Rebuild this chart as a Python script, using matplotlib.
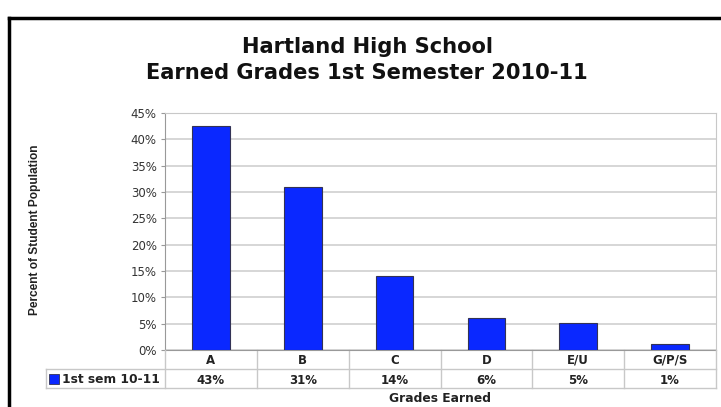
import matplotlib
matplotlib.use("Agg")
import matplotlib.pyplot as plt
from matplotlib.patches import Rectangle
from matplotlib.lines import Line2D

# data
grades = ["A", "B", "C", "D", "E/U", "G/P/S"]
percent = [42.5, 30.9, 14.0, 6.1, 5.1, 1.1]
table_labels = ["43%", "31%", "14%", "6%", "5%", "1%"]
series_name = "1st sem 10-11"
yticks = [0, 5, 10, 15, 20, 25, 30, 35, 40, 45]

W, H = 721, 407
# the source picture is stretched sideways, DejaVu is wider than Arial so it fits better
plt.rcParams["font.family"] = ["DejaVu Sans"]

fig = plt.figure(figsize=(W / 100, H / 100), dpi=100)


def fx(px):
    return px / W


def fy(py):
    return 1 - py / H


# outer black frame (runs off the right and bottom edge)
fig.add_artist(Line2D([fx(9), fx(9)], [fy(18), fy(420)], color="black", lw=2.5))
fig.add_artist(Line2D([fx(9), fx(730)], [fy(18), fy(18)], color="black", lw=2.5))

# plot area
left, right, top, bottom = 165, 716, 113, 350
ax = fig.add_axes([fx(left), fy(bottom), fx(right - left), fy(top) - fy(bottom)])

x = range(len(grades))
ax.bar(x, percent, width=0.41, color="#0a28ff", edgecolor="#333355", linewidth=0.8, zorder=3)
ax.set_xlim(-0.5, len(grades) - 0.5)
ax.set_ylim(0, 45)
ax.set_yticks(yticks)
ax.set_yticklabels([f"{t}%" for t in yticks], fontsize=8.5, color="#333333")
ax.tick_params(axis="y", length=3, color="#999999", pad=3)
ax.set_xticks([])
ax.grid(axis="y", color="#d0d0d0", lw=1.2, zorder=0)
for s in ["top", "right", "bottom"]:
    ax.spines[s].set_color("#c8c8c8")
ax.spines["left"].set_color("#999999")
ax.spines["bottom"].set_color("#999999")

# data table below the axes
row1_bot = 369
row2_bot = 388
legend_left = 46
gc = "#c8c8c8"
tr = ax.get_xaxis_transform()
fig.add_artist(Line2D([fx(legend_left), fx(right)], [fy(row1_bot), fy(row1_bot)], color=gc, lw=1))
fig.add_artist(Line2D([fx(legend_left), fx(right)], [fy(row2_bot), fy(row2_bot)], color=gc, lw=1))
fig.add_artist(Line2D([fx(legend_left), fx(legend_left)], [fy(row1_bot), fy(row2_bot)], color=gc, lw=1))
fig.add_artist(Line2D([fx(right), fx(right)], [fy(bottom), fy(row2_bot)], color=gc, lw=1))
fig.add_artist(Line2D([fx(left), fx(left)], [fy(bottom), fy(row2_bot)], color=gc, lw=1))

h = bottom - top
y_r1 = -(360 - bottom) / h
y_r2 = -(380 - bottom) / h
y_b = -(row2_bot - bottom) / h
for i, (g, lab) in enumerate(zip(grades, table_labels)):
    ax.text(i, y_r1, g, transform=tr, ha="center", va="center", fontsize=8.5, fontweight="bold", color="#222222")
    ax.text(i, y_r2, lab, transform=tr, ha="center", va="center", fontsize=8.5, fontweight="bold", color="#222222")
    if i > 0:
        ax.plot([i - 0.5, i - 0.5], [0, y_b], transform=tr, color=gc, lw=1, clip_on=False)

fig.add_artist(Rectangle((fx(49), fy(384)), fx(10), fy(374) - fy(384), facecolor="#0a28ff", edgecolor="#333355", lw=0.6))
fig.text(fx(62), fy(379.5), series_name, ha="left", va="center", fontsize=8.8, fontweight="bold", color="#222222")

fig.text(fx(440), fy(399), "Grades Earned", ha="center", va="center", fontsize=8.8, fontweight="bold", color="#222222")
fig.text(fx(35), fy(230), "Percent of Student Population", rotation=90, ha="center", va="center",
         fontsize=8.6, fontweight="bold", color="#222222", family="Liberation Sans")

fig.text(fx(367), fy(47), "Hartland High School", ha="center", va="center", fontsize=15.1, fontweight="bold", color="#111111")
fig.text(fx(367), fy(73), "Earned Grades 1st Semester 2010-11", ha="center", va="center", fontsize=15.1,
         fontweight="bold", color="#111111")

fig.savefig("out.png", dpi=100)
